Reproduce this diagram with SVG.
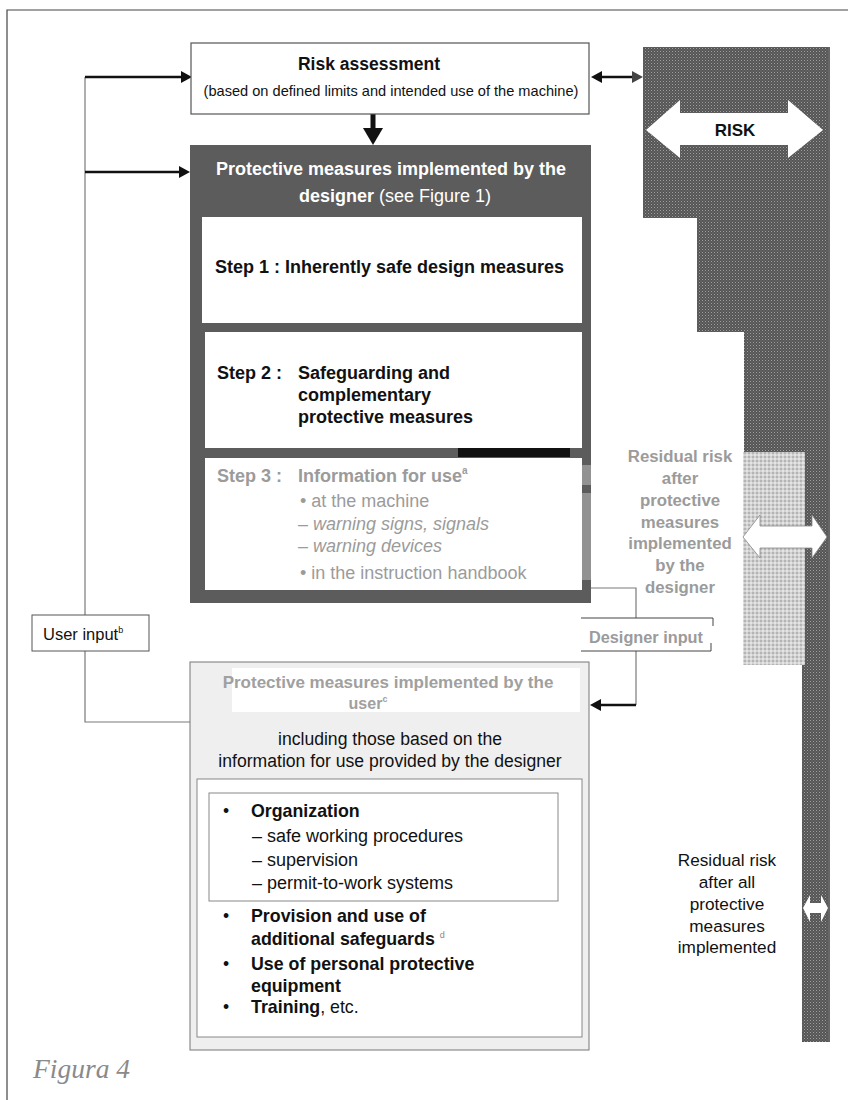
<svg xmlns="http://www.w3.org/2000/svg" width="848" height="1100" viewBox="0 0 848 1100">
<style>
text{font-family:"Liberation Sans",Arial,sans-serif;fill:#111}
.b{font-weight:bold}
.g{fill:#9b9b9b}
.w{fill:#fff}
.thin{fill:none;stroke:#7a7a7a;stroke-width:1.2}
.blk{fill:none;stroke:#111;stroke-width:2.5}
.head{fill:#111}
</style>
<defs>
<pattern id="dk" width="3" height="3" patternUnits="userSpaceOnUse">
<rect width="3" height="3" fill="#555"/>
<rect width="1" height="1" fill="#a0a0a0"/>
<rect x="1.5" y="1.5" width="1" height="1" fill="#808080"/>
</pattern>
<pattern id="lt" width="4" height="4" patternUnits="userSpaceOnUse">
<rect width="4" height="4" fill="#d2d2d2"/>
<rect width="2" height="2" fill="#b4b4b4"/>
<rect x="2" y="2" width="2" height="2" fill="#e4e4e4"/>
</pattern>
</defs>

<!-- page frame -->
<path d="M7,1100 V10 H848" fill="none" stroke="#444" stroke-width="1.2"/>

<!-- risk column -->
<g id="risk-column">
<polygon points="643,47 828,47 828,1042 802,1042 802,665 805,665 805,452 744,452 744,332 697,332 697,218 643,218" fill="url(#dk)"/>
<rect x="743" y="452" width="62" height="213" fill="url(#lt)"/>
<line x1="829" y1="47" x2="829" y2="1042" stroke="#333" stroke-width="1.5"/>
<polygon points="646,130 680,100 680,113 788,113 788,100 823,130 788,158 788,145 680,145 680,158" fill="#fff"/>
<text x="735" y="136" class="b" font-size="17" text-anchor="middle">RISK</text>
<polygon points="743,537 760,515 760,526 812,526 812,515 827,537 812,558 812,548 760,548 760,558" fill="#fff" stroke="#888" stroke-width="0.8"/>
<polygon points="803,908 810,895 810,903 821,903 821,895 828,908 821,922 821,913 810,913 810,922" fill="#fff"/>
</g>

<!-- connectors -->
<g id="connectors">
<path class="thin" d="M85,615 V77"/>
<path class="thin" d="M192,722 H85 V651"/>
<line x1="85" y1="77" x2="182" y2="77" class="blk"/>
<polygon class="head" points="192,77 181,71 181,83"/>
<line x1="85" y1="172" x2="180" y2="172" class="blk"/>
<polygon class="head" points="190,172 179,166 179,178"/>
<line x1="600" y1="77" x2="634" y2="77" class="blk"/>
<polygon class="head" points="591,77 602,71 602,83"/>
<polygon points="643,77 632,71 632,83" fill="#444"/>
<line x1="373" y1="114" x2="373" y2="130" stroke="#111" stroke-width="5"/>
<polygon class="head" points="363,128 383,128 373,145"/>
<path class="thin" d="M591,588 H636 V618"/>
<path class="thin" d="M636,651 V705"/>
<line x1="636" y1="705" x2="600" y2="705" class="blk"/>
<polygon class="head" points="590,705 601,699 601,711"/>
</g>

<!-- risk assessment -->
<g id="risk-assessment">
<rect x="191" y="43" width="398" height="71" fill="#fff" stroke="#555" stroke-width="1.2"/>
<text x="369" y="70" class="b" font-size="17.5" text-anchor="middle">Risk assessment</text>
<text x="391" y="96" font-size="14.6" text-anchor="middle">(based on defined limits and intended use of the machine)</text>
</g>

<!-- designer measures -->
<g id="designer-measures">
<rect x="190" y="145" width="401" height="458" fill="#5c5c5c"/>
<text x="391" y="175" class="b w" font-size="18" text-anchor="middle">Protective measures implemented by the</text>
<text x="395" y="202" font-size="18" text-anchor="middle" class="w"><tspan font-weight="bold">designer</tspan>  (see Figure 1)</text>
<g id="step1">
<rect x="202" y="217" width="380" height="106" fill="#fff"/>
<text x="215" y="273" class="b" font-size="18">Step 1 : Inherently safe design measures</text>
</g>
<g id="step2">
<rect x="205" y="332" width="377" height="116" fill="#fff"/>
<text x="217" y="379" class="b" font-size="18">Step 2 :</text>
<text x="298" y="379" class="b" font-size="18">Safeguarding and</text>
<text x="298" y="401" class="b" font-size="18">complementary</text>
<text x="298" y="423" class="b" font-size="18">protective measures</text>
</g>
<rect x="458" y="448" width="112" height="9" fill="#111"/>
<g id="step3">
<rect x="205" y="458" width="377" height="132" fill="#fff"/>
<rect x="582" y="465" width="9" height="20" fill="#929292"/>
<rect x="582" y="493" width="9" height="87" fill="#929292"/>
<text x="217" y="482" class="b g" font-size="18">Step 3 :</text>
<text x="298" y="482" class="b g" font-size="18">Information for use<tspan font-size="10" dy="-8">a</tspan></text>
<text x="300" y="507" class="g" font-size="18">• at the machine</text>
<text x="298" y="530" class="g" font-size="18" font-style="italic">– warning signs, signals</text>
<text x="298" y="552" class="g" font-size="18" font-style="italic">– warning devices</text>
<text x="300" y="579" class="g" font-size="18">• in the instruction handbook</text>
</g>
</g>

<!-- user input -->
<g id="user-input">
<rect x="32" y="615" width="117" height="36" fill="#fff" stroke="#555" stroke-width="1"/>
<text x="43" y="640" font-size="16.5">User input<tspan font-size="9" dy="-7">b</tspan></text>
</g>

<!-- designer input -->
<g id="designer-input">
<rect x="581" y="618" width="132" height="33" fill="#fff"/>
<path d="M581,618 H713 V626 M711,643 V651 H581" fill="none" stroke="#444" stroke-width="1"/>
<text x="646" y="643" class="b g" font-size="16.3" text-anchor="middle">Designer input</text>
</g>

<!-- user measures -->
<g id="user-measures">
<rect x="190" y="662" width="399" height="388" fill="#efefef" stroke="#777" stroke-width="1"/>
<rect x="232" y="668" width="348" height="44" fill="#fff"/>
<text x="388" y="688" class="b" font-size="17" style="fill:#a0a0a0" text-anchor="middle">Protective measures implemented by the</text>
<text x="368" y="709" class="b" font-size="16" style="fill:#a0a0a0" text-anchor="middle">user<tspan font-size="9" dy="-7">c</tspan></text>
<text x="390" y="745" font-size="17.6" text-anchor="middle">including those based on the</text>
<text x="390" y="767" font-size="17.6" text-anchor="middle">information for use provided by the designer</text>
<rect x="197" y="779" width="385" height="258" fill="#fff" stroke="#888" stroke-width="1"/>
<rect x="209" y="793" width="349" height="108" fill="none" stroke="#888" stroke-width="1"/>
<text x="223" y="817" font-size="17.5">•</text>
<text x="251" y="817" class="b" font-size="17.8">Organization</text>
<text x="252" y="842" font-size="18">– safe working procedures</text>
<text x="252" y="866" font-size="18">– supervision</text>
<text x="252" y="889" font-size="18">– permit-to-work systems</text>
<text x="223" y="922" font-size="17.5">•</text>
<text x="251" y="922" class="b" font-size="17.8">Provision and use of</text>
<text x="251" y="945" class="b" font-size="17.8">additional safeguards <tspan font-size="9" dy="-7" font-weight="normal" style="fill:#888">d</tspan></text>
<text x="223" y="970" font-size="17.5">•</text>
<text x="251" y="970" class="b" font-size="17.8">Use of personal protective</text>
<text x="251" y="992" class="b" font-size="17.8">equipment</text>
<text x="223" y="1013" font-size="17.5">•</text>
<text x="251" y="1013" font-size="17.8"><tspan font-weight="bold">Training</tspan>, etc.</text>
</g>

<!-- residual labels -->
<g id="residual-designer" font-size="16.8" text-anchor="middle">
<text x="680" y="462" class="b g">Residual risk</text>
<text x="680" y="484" class="b g">after</text>
<text x="680" y="506" class="b g">protective</text>
<text x="680" y="528" class="b g">measures</text>
<text x="680" y="549" class="b g">implemented</text>
<text x="680" y="571" class="b g">by the</text>
<text x="680" y="593" class="b g">designer</text>
</g>
<g id="residual-all" font-size="17.2" text-anchor="middle">
<text x="727" y="866">Residual risk</text>
<text x="727" y="888">after all</text>
<text x="727" y="910">protective</text>
<text x="727" y="932">measures</text>
<text x="727" y="953">implemented</text>
</g>

<text x="33" y="1078" font-style="italic" font-size="27.5" style="font-family:'Liberation Serif',serif;fill:#8a8a8a">Figura 4</text>
</svg>
